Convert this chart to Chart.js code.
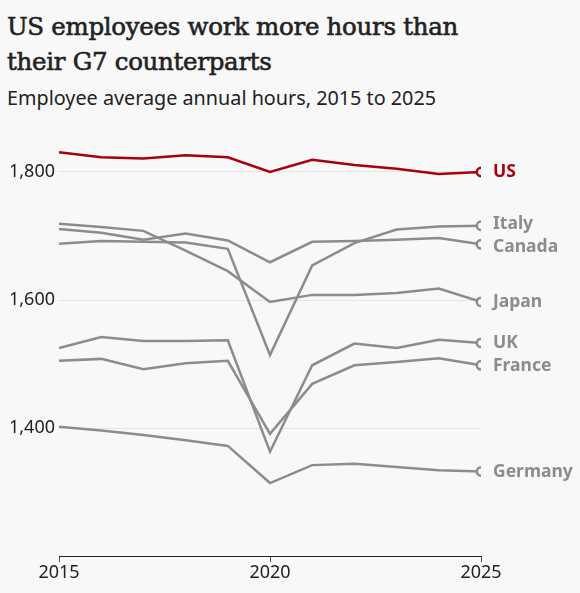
<!DOCTYPE html>
<html>
<head>
<meta charset="utf-8">
<script src="https://cdn.jsdelivr.net/npm/chart.js@4.4.1/dist/chart.umd.min.js"></script>
<style>
  html, body { margin: 0; padding: 0; background: #f8f8f8; }
  #wrap { position: relative; width: 580px; height: 593px; overflow: hidden; }
  #title {
    position: absolute; left: 7px; top: 9px; width: 570px;
    font-family: "DejaVu Serif", serif; font-size: 24.5px; line-height: 35px;
    color: #222; letter-spacing: -0.3px; -webkit-text-stroke: 0.6px #222;
  }
  #subtitle {
    position: absolute; left: 7px; top: 84px;
    font-family: "Noto Sans", sans-serif; font-size: 19.8px; color: #222;
  }
  canvas { position: absolute; left: 0; top: 0; }
</style>
</head>
<body>
<div id="wrap">
  <div id="title">US employees work more hours than<br>their G7 counterparts</div>
  <div id="subtitle">Employee average annual hours, 2015 to 2025</div>
  <canvas id="myChart" width="580" height="593"></canvas>
</div>
<script>
const years = [2015, 2016, 2017, 2018, 2019, 2020, 2021, 2022, 2023, 2024, 2025];

const us      = [1831, 1823, 1821, 1826, 1823, 1800, 1819, 1811, 1805, 1797, 1800];
const italy   = [1688, 1692, 1691, 1690, 1680, 1514, 1654, 1689, 1710, 1715, 1716];
const canada  = [1711, 1705, 1694, 1704, 1693, 1659, 1691, 1692, 1694, 1697, 1687];
const japan   = [1719, 1714, 1708, 1677, 1645, 1597, 1608, 1608, 1611, 1618, 1597];
const uk      = [1525, 1542, 1536, 1536, 1537, 1363, 1498, 1532, 1525, 1538, 1533];
const france  = [1505, 1508, 1492, 1501, 1505, 1391, 1469, 1498, 1503, 1509, 1498];
const germany = [1402, 1396, 1389, 1381, 1372, 1314, 1342, 1344, 1339, 1334, 1332];

const yTicks = [1400, 1600, 1800];
const xTicks = [2015, 2020, 2025];

const RED = '#a8000c';
const GREY = '#8c8c8c';
const BG = '#f8f8f8';

// label nudges so Italy and Canada don't collide
const labelNudge = { Italy: -2, Canada: 3, France: 1 };

function series(label, values, color) {
  const last = values.length - 1;
  return {
    label: label,
    data: values.map((v, i) => ({ x: years[i], y: v })),
    borderColor: color,
    borderWidth: 2.5,
    pointRadius: values.map((v, i) => i === last ? 4.2 : 0),
    pointBorderWidth: 2.5,
    pointBackgroundColor: BG,
    pointBorderColor: color,
    tension: 0,
    fill: false
  };
}

const endLabels = {
  id: 'endLabels',
  afterDatasetsDraw(chart) {
    const ctx = chart.ctx;
    ctx.save();
    ctx.font = 'bold 17.5px "Noto Sans", sans-serif';
    ctx.textBaseline = 'middle';
    ctx.textAlign = 'left';
    chart.data.datasets.forEach((ds, i) => {
      const meta = chart.getDatasetMeta(i);
      const pt = meta.data[meta.data.length - 1];
      ctx.fillStyle = ds.borderColor;
      ctx.fillText(ds.label, pt.x + 12, pt.y + (labelNudge[ds.label] || 0));
    });
    ctx.restore();
  }
};

const ctx = document.getElementById('myChart');

new Chart(ctx, {
  type: 'line',
  data: {
    datasets: [
      series('US', us, RED),
      series('Italy', italy, GREY),
      series('Canada', canada, GREY),
      series('Japan', japan, GREY),
      series('UK', uk, GREY),
      series('France', france, GREY),
      series('Germany', germany, GREY)
    ]
  },
  options: {
    responsive: false,
    animation: false,
    devicePixelRatio: 1,
    layout: { padding: { top: 140, right: 99, left: 0, bottom: 0 } },
    plugins: {
      legend: { display: false },
      tooltip: { enabled: false }
    },
    scales: {
      x: {
        type: 'linear',
        min: 2015,
        max: 2025,
        afterBuildTicks: (s) => { s.ticks = xTicks.map(v => ({ value: v })); },
        afterFit: (s) => { s.height = 37; },
        border: { display: true, color: '#222', width: 1 },
        grid: { drawOnChartArea: false, drawTicks: true, tickLength: 6, tickColor: '#555' },
        ticks: {
          callback: (v) => String(v),
          color: '#222',
          padding: 0,
          maxRotation: 0,
          font: { family: '"Noto Sans", sans-serif', size: 18 }
        }
      },
      y: {
        min: 1200,
        max: 1850,
        afterBuildTicks: (s) => { s.ticks = yTicks.map(v => ({ value: v })); },
        afterFit: (s) => { s.width = 59; },
        border: { display: false },
        grid: { color: '#e4e4e4', lineWidth: 1, drawTicks: false },
        ticks: {
          color: '#222',
          padding: 4,
          callback: (v) => v.toLocaleString('en-US'),
          font: { family: '"Noto Sans", sans-serif', size: 18 }
        }
      }
    }
  },
  plugins: [endLabels]
});
</script>
</body>
</html>
